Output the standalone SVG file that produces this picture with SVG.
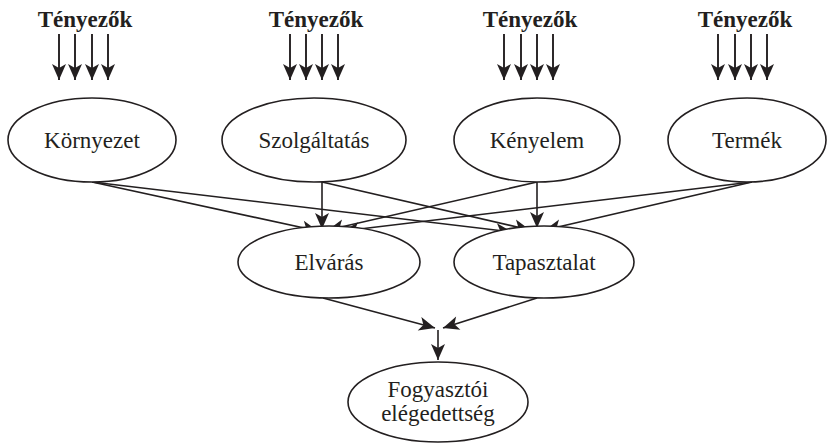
<svg xmlns="http://www.w3.org/2000/svg" width="827" height="443" viewBox="0 0 827 443">
<defs>
<marker id="ah" markerUnits="userSpaceOnUse" markerWidth="20" markerHeight="16" viewBox="-18 -8 20 16" refX="0" refY="0" orient="auto">
<path d="M0,0 L-16,-7 L-12,0 L-16,7 Z" fill="#231f20"/>
</marker>
</defs>
<style>
.n ellipse{fill:#fff;stroke:#231f20;stroke-width:1.6}
.n text, .t{font-family:"Liberation Serif","Times New Roman",serif;font-size:23px;fill:#231f20;text-anchor:middle}
.t{font-weight:bold}
.c line{stroke:#231f20;stroke-width:1.6;marker-end:url(#ah)}
.c line.f{stroke-width:1.9}
</style>
<rect width="827" height="443" fill="#fff"/>
<g id="factors">
<text class="t" x="85" y="27">Tényezők</text>
<text class="t" x="316" y="27">Tényezők</text>
<text class="t" x="530" y="27">Tényezők</text>
<text class="t" x="745" y="27">Tényezők</text>
</g>
<g id="connectors" class="c">
<line class="f" x1="59" y1="34" x2="59" y2="80"/>
<line class="f" x1="75" y1="34" x2="75" y2="80"/>
<line class="f" x1="92" y1="34" x2="92" y2="80"/>
<line class="f" x1="108" y1="34" x2="108" y2="80"/>
<line class="f" x1="290" y1="34" x2="290" y2="80"/>
<line class="f" x1="306" y1="34" x2="306" y2="80"/>
<line class="f" x1="322" y1="34" x2="322" y2="80"/>
<line class="f" x1="338" y1="34" x2="338" y2="80"/>
<line class="f" x1="504" y1="34" x2="504" y2="80"/>
<line class="f" x1="521" y1="34" x2="521" y2="80"/>
<line class="f" x1="537" y1="34" x2="537" y2="80"/>
<line class="f" x1="553" y1="34" x2="553" y2="80"/>
<line class="f" x1="718" y1="34" x2="718" y2="80"/>
<line class="f" x1="735" y1="34" x2="735" y2="80"/>
<line class="f" x1="751" y1="34" x2="751" y2="80"/>
<line class="f" x1="767" y1="34" x2="767" y2="80"/>
<line x1="92" y1="182" x2="318" y2="231"/>
<line x1="92" y1="182" x2="512" y2="232"/>
<line x1="322" y1="182" x2="322" y2="229"/>
<line x1="322" y1="182" x2="530" y2="230"/>
<line x1="537" y1="182" x2="328" y2="230"/>
<line x1="537" y1="182" x2="537" y2="228"/>
<line x1="752" y1="182" x2="343" y2="231"/>
<line x1="752" y1="182" x2="545" y2="230"/>
<line x1="323" y1="298" x2="435" y2="328"/>
<line x1="537" y1="298" x2="443" y2="328"/>
<line x1="438" y1="330" x2="438" y2="360"/>
</g>
<g id="kornyezet" class="n"><ellipse cx="92" cy="140" rx="84" ry="42"/><text x="92" y="148">Környezet</text></g>
<g id="szolgaltatas" class="n"><ellipse cx="314" cy="140" rx="92" ry="42"/><text x="314" y="148">Szolgáltatás</text></g>
<g id="kenyelem" class="n"><ellipse cx="537" cy="140" rx="83" ry="42"/><text x="537" y="148">Kényelem</text></g>
<g id="termek" class="n"><ellipse cx="747" cy="140" rx="79" ry="42"/><text x="747" y="148">Termék</text></g>
<g id="elvaras" class="n"><ellipse cx="329" cy="262" rx="91" ry="36"/><text x="329" y="270">Elvárás</text></g>
<g id="tapasztalat" class="n"><ellipse cx="544" cy="262" rx="90" ry="36"/><text x="544" y="270">Tapasztalat</text></g>
<g id="elegedettseg" class="n"><ellipse cx="438" cy="402" rx="90" ry="40"/><text x="438" y="397">Fogyasztói</text><text x="438" y="421">elégedettség</text></g>
</svg>
